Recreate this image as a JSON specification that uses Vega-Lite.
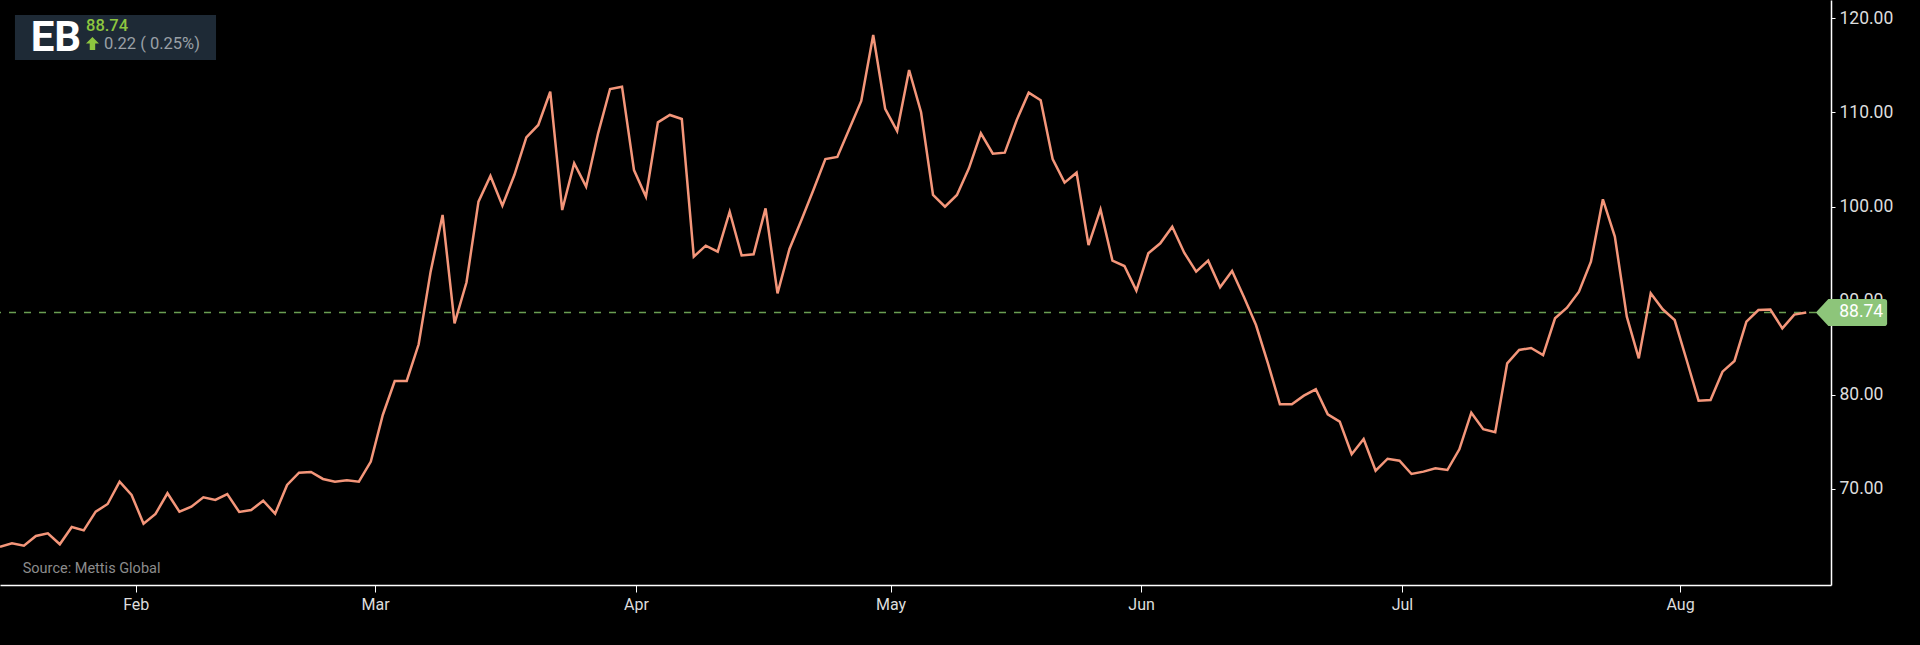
{
  "$schema": "https://vega.github.io/schema/vega-lite/v6.json",
  "width": 1831,
  "height": 585,
  "autosize": {"type": "none"},
  "padding": {"left": 0, "top": 0, "right": 89, "bottom": 60},
  "background": "#000000",
  "config": {"view": {"stroke": null}, "font": "Roboto"},
  "layer": [
    {
      "data": {"values": [{"last": 88.74}]},
      "mark": {"type": "rule", "color": "#6a9e52", "strokeWidth": 1.5, "strokeDash": [7, 8]},
      "encoding": {
        "y": {"field": "last", "type": "quantitative", "scale": {"domain": [59.78, 121.95], "nice": false, "zero": false}, "axis": {"orient": "right", "title": null}}
      }
    },
    {
      "data": {
        "values": [
          {"i": 0, "close": 63.85}, {"i": 1, "close": 64.21}, {"i": 2, "close": 63.96}, {"i": 3, "close": 64.99},
          {"i": 4, "close": 65.28}, {"i": 5, "close": 64.11}, {"i": 6, "close": 65.95}, {"i": 7, "close": 65.59},
          {"i": 8, "close": 67.57}, {"i": 9, "close": 68.39}, {"i": 10, "close": 70.76}, {"i": 11, "close": 69.35},
          {"i": 12, "close": 66.3}, {"i": 13, "close": 67.33}, {"i": 14, "close": 69.53}, {"i": 15, "close": 67.57},
          {"i": 16, "close": 68.1}, {"i": 17, "close": 69.1}, {"i": 18, "close": 68.82}, {"i": 19, "close": 69.45},
          {"i": 20, "close": 67.54}, {"i": 21, "close": 67.75}, {"i": 22, "close": 68.74}, {"i": 23, "close": 67.36},
          {"i": 24, "close": 70.41}, {"i": 25, "close": 71.72}, {"i": 26, "close": 71.79}, {"i": 27, "close": 71.05},
          {"i": 28, "close": 70.76}, {"i": 29, "close": 70.91}, {"i": 30, "close": 70.76}, {"i": 31, "close": 72.89},
          {"i": 32, "close": 77.85}, {"i": 33, "close": 81.46}, {"i": 34, "close": 81.46}, {"i": 35, "close": 85.36},
          {"i": 36, "close": 93.08}, {"i": 37, "close": 99.1}, {"i": 38, "close": 87.59}, {"i": 39, "close": 91.95},
          {"i": 40, "close": 100.52}, {"i": 41, "close": 103.25}, {"i": 42, "close": 100.09}, {"i": 43, "close": 103.35},
          {"i": 44, "close": 107.36}, {"i": 45, "close": 108.67}, {"i": 46, "close": 112.2}, {"i": 47, "close": 99.63},
          {"i": 48, "close": 104.6}, {"i": 49, "close": 102.11}, {"i": 50, "close": 107.78}, {"i": 51, "close": 112.49},
          {"i": 52, "close": 112.74}, {"i": 53, "close": 103.88}, {"i": 54, "close": 101.05}, {"i": 55, "close": 108.95},
          {"i": 56, "close": 109.73}, {"i": 57, "close": 109.3}, {"i": 58, "close": 94.67}, {"i": 59, "close": 95.84},
          {"i": 60, "close": 95.2}, {"i": 61, "close": 99.45}, {"i": 62, "close": 94.8}, {"i": 63, "close": 94.92},
          {"i": 64, "close": 99.81}, {"i": 65, "close": 90.78}, {"i": 66, "close": 95.49}, {"i": 67, "close": 98.57},
          {"i": 68, "close": 101.76}, {"i": 69, "close": 105.05}, {"i": 70, "close": 105.27}, {"i": 71, "close": 108.24},
          {"i": 72, "close": 111.22}, {"i": 73, "close": 118.23}, {"i": 74, "close": 110.37}, {"i": 75, "close": 108.03},
          {"i": 76, "close": 114.51}, {"i": 77, "close": 110.02}, {"i": 78, "close": 101.23}, {"i": 79, "close": 99.99},
          {"i": 80, "close": 101.23}, {"i": 81, "close": 104.06}, {"i": 82, "close": 107.78}, {"i": 83, "close": 105.62},
          {"i": 84, "close": 105.73}, {"i": 85, "close": 109.2}, {"i": 86, "close": 112.1}, {"i": 87, "close": 111.29},
          {"i": 88, "close": 105.05}, {"i": 89, "close": 102.54}, {"i": 90, "close": 103.6}, {"i": 91, "close": 95.91},
          {"i": 92, "close": 99.7}, {"i": 93, "close": 94.25}, {"i": 94, "close": 93.68}, {"i": 95, "close": 91.06},
          {"i": 96, "close": 95.03}, {"i": 97, "close": 96.09}, {"i": 98, "close": 97.86}, {"i": 99, "close": 95.1},
          {"i": 100, "close": 93.08}, {"i": 101, "close": 94.25}, {"i": 102, "close": 91.42}, {"i": 103, "close": 93.15},
          {"i": 104, "close": 90.35}, {"i": 105, "close": 87.41}, {"i": 106, "close": 83.34}, {"i": 107, "close": 78.98},
          {"i": 108, "close": 78.98}, {"i": 109, "close": 79.9}, {"i": 110, "close": 80.58}, {"i": 111, "close": 77.92},
          {"i": 112, "close": 77.14}, {"i": 113, "close": 73.67}, {"i": 114, "close": 75.3}, {"i": 115, "close": 71.93},
          {"i": 116, "close": 73.2}, {"i": 117, "close": 72.99}, {"i": 118, "close": 71.58}, {"i": 119, "close": 71.83},
          {"i": 120, "close": 72.18}, {"i": 121, "close": 72.0}, {"i": 122, "close": 74.2}, {"i": 123, "close": 78.09},
          {"i": 124, "close": 76.33}, {"i": 125, "close": 76.01}, {"i": 126, "close": 83.34}, {"i": 127, "close": 84.76},
          {"i": 128, "close": 84.97}, {"i": 129, "close": 84.22}, {"i": 130, "close": 88.12}, {"i": 131, "close": 89.25},
          {"i": 132, "close": 90.95}, {"i": 133, "close": 94.14}, {"i": 134, "close": 100.77}, {"i": 135, "close": 96.8},
          {"i": 136, "close": 88.3}, {"i": 137, "close": 83.87}, {"i": 138, "close": 90.78}, {"i": 139, "close": 89.08},
          {"i": 140, "close": 87.94}, {"i": 141, "close": 83.69}, {"i": 142, "close": 79.37}, {"i": 143, "close": 79.44},
          {"i": 144, "close": 82.45}, {"i": 145, "close": 83.59}, {"i": 146, "close": 87.76}, {"i": 147, "close": 89.0},
          {"i": 148, "close": 89.05}, {"i": 149, "close": 87.06}, {"i": 150, "close": 88.52}, {"i": 151, "close": 88.74}
        ]
      },
      "mark": {"type": "line", "color": "#f4967a", "strokeWidth": 2.5, "strokeJoin": "miter"},
      "encoding": {
        "x": {
          "field": "i",
          "type": "quantitative",
          "scale": {"domain": [0, 153.07], "nice": false, "zero": false},
          "axis": {
            "title": null,
            "grid": false,
            "values": [11.35, 31.35, 53.17, 74.45, 95.39, 117.2, 140.45],
            "labelExpr": "datum.value < 20 ? 'Feb' : datum.value < 40 ? 'Mar' : datum.value < 60 ? 'Apr' : datum.value < 85 ? 'May' : datum.value < 105 ? 'Jun' : datum.value < 130 ? 'Jul' : 'Aug'",
            "domainColor": "#ffffff",
            "domainWidth": 1.5,
            "tickColor": "#ffffff",
            "tickSize": 7,
            "labelColor": "#dddddd",
            "labelFontSize": 16,
            "labelPadding": 4,
            "labelFlush": false,
            "labelOverlap": false
          }
        },
        "y": {
          "field": "close",
          "type": "quantitative",
          "scale": {"domain": [59.78, 121.95], "nice": false, "zero": false},
          "axis": {
            "orient": "right",
            "title": null,
            "grid": false,
            "values": [70, 80, 90, 100, 110, 120],
            "format": ".2f",
            "domainColor": "#ffffff",
            "domainWidth": 1.5,
            "tickColor": "#ffffff",
            "tickSize": 4,
            "labelColor": "#dddddd",
            "labelFontSize": 17.5,
            "labelPadding": 4
          }
        }
      }
    },
    {
      "data": {"values": [{"last": 88.74}]},
      "mark": {
        "type": "point",
        "filled": true,
        "opacity": 1,
        "color": "#8dc57a",
        "strokeWidth": 0,
        "size": 5084,
        "shape": "M-1,0 L-0.647,-0.379 L0.92,-0.379 Q1,-0.379 1,-0.3 L1,0.3 Q1,0.379 0.92,0.379 L-0.647,0.379 Z"
      },
      "encoding": {
        "x": {"datum": 154.78, "type": "quantitative", "scale": {"domain": [0, 153.07], "nice": false, "zero": false}, "axis": {"title": null}},
        "y": {"field": "last", "type": "quantitative", "scale": {"domain": [59.78, 121.95], "nice": false, "zero": false}, "axis": {"orient": "right", "title": null}}
      }
    },
    {
      "data": {"values": [{"last": 88.74}]},
      "mark": {"type": "text", "align": "left", "baseline": "middle", "fontSize": 17.5, "color": "#ffffff"},
      "encoding": {
        "x": {"datum": 153.76, "type": "quantitative", "scale": {"domain": [0, 153.07], "nice": false, "zero": false}, "axis": {"title": null}},
        "y": {"field": "last", "type": "quantitative", "scale": {"domain": [59.78, 121.95], "nice": false, "zero": false}, "axis": {"orient": "right", "title": null}},
        "text": {"field": "last", "type": "quantitative", "format": ".2f"}
      }
    },
    {
      "data": {"values": [{"box": "EB"}]},
      "mark": {"type": "rect", "color": "#1e2a36"},
      "encoding": {
        "x": {"datum": 1.25, "type": "quantitative", "scale": {"domain": [0, 153.07], "nice": false, "zero": false}, "axis": {"title": null}},
        "x2": {"datum": 18.06},
        "y": {"datum": 120.36, "type": "quantitative", "scale": {"domain": [59.78, 121.95], "nice": false, "zero": false}, "axis": {"orient": "right", "title": null}},
        "y2": {"datum": 115.57}
      }
    },
    {
      "data": {"values": [{"ticker": "EB"}]},
      "mark": {"type": "text", "align": "left", "baseline": "alphabetic", "fontSize": 42, "fontWeight": "bold", "color": "#ffffff"},
      "encoding": {
        "x": {"datum": 2.57, "type": "quantitative", "scale": {"domain": [0, 153.07], "nice": false, "zero": false}, "axis": {"title": null}},
        "y": {"datum": 116.56, "type": "quantitative", "scale": {"domain": [59.78, 121.95], "nice": false, "zero": false}, "axis": {"orient": "right", "title": null}},
        "text": {"field": "ticker"}
      }
    },
    {
      "data": {"values": [{"price": "88.74"}]},
      "mark": {"type": "text", "align": "left", "baseline": "alphabetic", "fontSize": 16.5, "fontWeight": 500, "color": "#8dc63f"},
      "encoding": {
        "x": {"datum": 7.19, "type": "quantitative", "scale": {"domain": [0, 153.07], "nice": false, "zero": false}, "axis": {"title": null}},
        "y": {"datum": 118.69, "type": "quantitative", "scale": {"domain": [59.78, 121.95], "nice": false, "zero": false}, "axis": {"orient": "right", "title": null}},
        "text": {"field": "price"}
      }
    },
    {
      "data": {"values": [{"dir": "up"}]},
      "mark": {
        "type": "point",
        "filled": true,
        "opacity": 1,
        "color": "#8dc63f",
        "strokeWidth": 0,
        "size": 169,
        "shape": "M0,-1 L1,0 L0.42,0 L0.42,1 L-0.42,1 L-0.42,0 L-1,0 Z"
      },
      "encoding": {
        "x": {"datum": 7.73, "type": "quantitative", "scale": {"domain": [0, 153.07], "nice": false, "zero": false}, "axis": {"title": null}},
        "y": {"datum": 117.33, "type": "quantitative", "scale": {"domain": [59.78, 121.95], "nice": false, "zero": false}, "axis": {"orient": "right", "title": null}}
      }
    },
    {
      "data": {"values": [{"change": "0.22 ( 0.25%)"}]},
      "mark": {"type": "text", "align": "left", "baseline": "alphabetic", "fontSize": 16.5, "color": "#9aa0a6"},
      "encoding": {
        "x": {"datum": 8.69, "type": "quantitative", "scale": {"domain": [0, 153.07], "nice": false, "zero": false}, "axis": {"title": null}},
        "y": {"datum": 116.71, "type": "quantitative", "scale": {"domain": [59.78, 121.95], "nice": false, "zero": false}, "axis": {"orient": "right", "title": null}},
        "text": {"field": "change"}
      }
    },
    {
      "data": {"values": [{"source": "Source: Mettis Global"}]},
      "mark": {"type": "text", "align": "left", "baseline": "middle", "fontSize": 14.5, "color": "#8c8c8c"},
      "encoding": {
        "x": {"datum": 1.9, "type": "quantitative", "scale": {"domain": [0, 153.07], "nice": false, "zero": false}, "axis": {"title": null}},
        "y": {"datum": 61.48, "type": "quantitative", "scale": {"domain": [59.78, 121.95], "nice": false, "zero": false}, "axis": {"orient": "right", "title": null}},
        "text": {"field": "source"}
      }
    }
  ]
}
